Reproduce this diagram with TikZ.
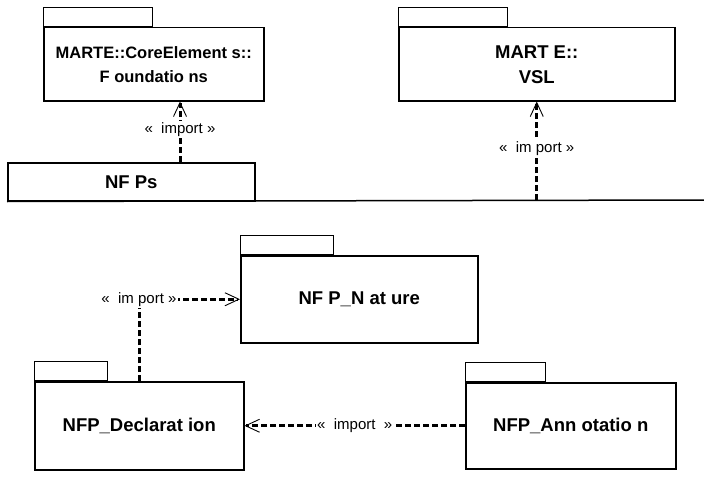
\documentclass[tikz,border=0pt]{standalone}
\usepackage{fontspec}
\setmainfont{Liberation Sans}
\usetikzlibrary{arrows.meta}
\begin{document}
\begin{tikzpicture}[x=1pt,y=-1pt,
  pkg/.style={draw, line width=1.5pt, anchor=north west, inner sep=0pt, align=center,
    font=\fontsize{18.5}{25}\selectfont\bfseries},
  pkgtab/.style={draw, line width=1.3pt, anchor=south west, inner sep=0pt, minimum height=19pt},
  imp/.style={line width=3pt, dash pattern=on 6pt off 3pt,
    -{Straight Barb[length=14pt,width=13pt,line width=0.9pt]}},
  lbl/.style={fill=white, inner sep=1.5pt, font=\fontsize{15}{17}\selectfont}]
\useasboundingbox (0,0) rectangle (704,495);
% top packages
\node[pkg, minimum width=220pt, minimum height=73pt, font=\fontsize{16.5}{24}\selectfont\bfseries] (fnd) at (43,27) {MARTE::CoreElement s::\\F oundatio ns};
\node[pkgtab, minimum width=109pt] (fndtab) at (fnd.north west) {};
\node[pkg, minimum width=276pt, minimum height=73pt] (vsl) at (398,27) {MART E::\\VSL};
\node[pkgtab, minimum width=109pt] (vsltab) at (vsl.north west) {};
% NFPs frame
\node[draw, line width=1.5pt, anchor=north west, minimum width=247pt, minimum height=38pt, inner sep=0pt,
  font=\fontsize{18.5}{25}\selectfont\bfseries] (nfpstab) at (7,162) {NF Ps};
\coordinate (nfpsend) at (704,200);
\draw[line width=1.5pt] (nfpstab.south west) -- (nfpsend);
% inner packages
\node[pkg, minimum width=237pt, minimum height=87pt] (nat) at (240,255) {NF P\_N at ure};
\node[pkgtab, minimum width=93pt] (nattab) at (nat.north west) {};
\node[pkg, minimum width=209pt, minimum height=88pt] (decl) at (34,381) {NFP\_Declarat ion};
\node[pkgtab, minimum width=73pt] (decltab) at (decl.north west) {};
\node[pkg, minimum width=210pt, minimum height=86pt] (ann) at (465,382) {NFP\_Ann otatio n};
\node[pkgtab, minimum width=80pt] (anntab) at (ann.north west) {};
% imports
\coordinate (a1) at (180,0);
\draw[imp] (a1 |- nfpstab.north) -- node[lbl, pos=0.53] {«\ \ import\ »} (a1 |- fnd.south);
\draw[imp] (vsl.south |- nfpsend) -- node[lbl, pos=0.52] {«\ \ im port\ »} (vsl.south);
\coordinate (a3) at (139,0);
\draw[imp] (a3 |- decl.north) |- node[lbl, pos=0.5] {«\ \ im port\ »} (nat.west);
\draw[imp] (ann.west) -- node[lbl, pos=0.5] {«\ \ import\ \ »} (decl.east);
\end{tikzpicture}
\end{document}
